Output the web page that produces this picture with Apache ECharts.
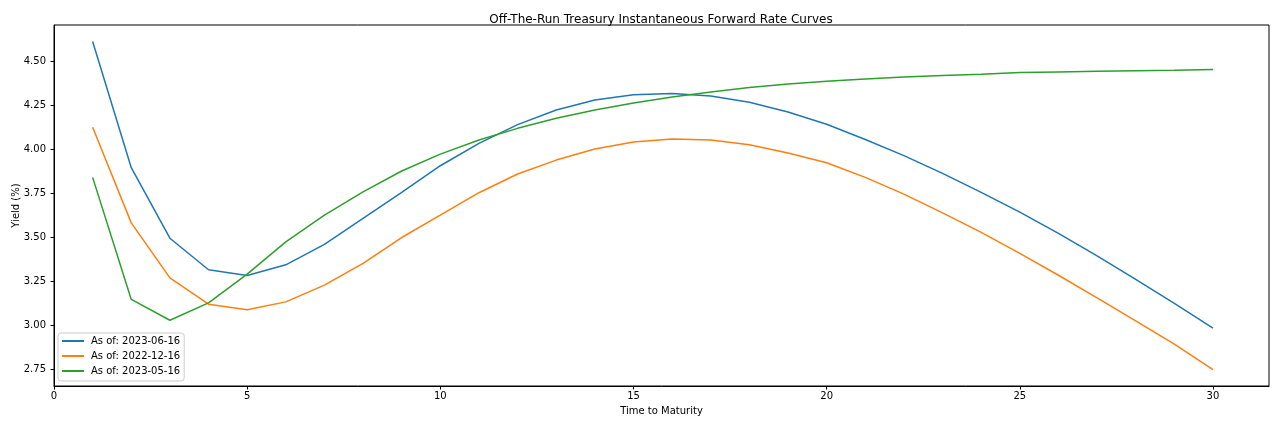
<!DOCTYPE html>
<html>
<head>
<meta charset="utf-8">
<script src="https://cdn.jsdelivr.net/npm/echarts@6/dist/echarts.min.js"></script>
<style>html,body{margin:0;padding:0;background:#fff}#c{width:1280px;height:427px}</style>
</head>
<body>
<div id="c"></div>
<script>
const maturities = [1,2,3,4,5,6,7,8,9,10,11,12,13,14,15,16,17,18,19,20,21,22,23,24,25,26,27,28,29,30];
const curve20230616 = [4.61,3.895,3.495,3.316,3.284,3.344,3.46,3.607,3.755,3.906,4.033,4.139,4.222,4.279,4.309,4.315,4.301,4.266,4.211,4.141,4.055,3.963,3.863,3.755,3.643,3.522,3.395,3.261,3.125,2.985];
const curve20221216 = [4.124,3.582,3.270,3.121,3.089,3.134,3.229,3.352,3.499,3.626,3.753,3.859,3.938,4.001,4.040,4.057,4.052,4.025,3.978,3.923,3.840,3.745,3.639,3.528,3.409,3.285,3.157,3.026,2.894,2.75];
const curve20230516 = [3.840,3.148,3.030,3.128,3.291,3.474,3.626,3.758,3.876,3.972,4.052,4.118,4.175,4.222,4.262,4.296,4.324,4.349,4.369,4.385,4.398,4.409,4.418,4.425,4.434,4.438,4.442,4.445,4.447,4.451];
const seriesNames = ['As of: 2023-06-16','As of: 2022-12-16','As of: 2023-05-16'];
const xTicks = [0,5,10,15,20,25,30];
const yTicks = [2.75,3.0,3.25,3.5,3.75,4.0,4.25,4.5];

const colors = ['#1f77b4','#ff7f0e','#2ca02c'];
const allSeries = [curve20230616, curve20221216, curve20230516];
const font = 'DejaVu Sans';
const chart = echarts.init(document.getElementById('c'), null, {renderer:'canvas'});
chart.setOption({
  animation:false,
  color: colors,
  title:{text:'Off-The-Run Treasury Instantaneous Forward Rate Curves', left:656, top:9, textAlign:'center',
    textStyle:{fontFamily:font,fontSize:12,fontWeight:'normal',color:'#000'}},
  legend:{orient:'vertical', left:58, top:333, itemWidth:22, itemHeight:2, itemGap:1,
    backgroundColor:'rgba(255,255,255,0.8)', borderColor:'#cccccc', borderWidth:1, borderRadius:3,
    padding:[1,4,3,4], icon:'rect',
    textStyle:{fontFamily:font,fontSize:10,color:'#000',padding:[0,0,0,2], lineHeight:14},
    data: seriesNames},
  grid:{left:54, right:11, top:25, bottom:41, outerBoundsMode:'none', containLabel:false,
    show:true, borderColor:'#000', borderWidth:1, backgroundColor:'transparent'},
  xAxis:{type:'value', min:0, max:31.45, name:'Time to Maturity', nameLocation:'middle', nameGap:20,
    nameMoveOverlap:false,
    nameTextStyle:{fontFamily:font,fontSize:10,color:'#000'},
    axisLine:{show:true,lineStyle:{color:'#000'}}, splitLine:{show:false},
    axisTick:{show:true, length:3.5, lineStyle:{color:'#000'}, customValues:xTicks},
    axisLabel:{fontFamily:font,fontSize:10,color:'#000',margin:5, customValues:xTicks}},
  yAxis:{type:'value', min:2.657, max:4.704, name:'Yield (%)', nameLocation:'middle', nameGap:33,
    nameMoveOverlap:false,
    nameTextStyle:{fontFamily:font,fontSize:10,color:'#000'},
    axisLine:{show:true,lineStyle:{color:'#000'}}, splitLine:{show:false},
    axisTick:{show:true, length:3.5, lineStyle:{color:'#000'}, customValues:yTicks},
    axisLabel:{fontFamily:font,fontSize:10,color:'#000',margin:8, customValues:yTicks, formatter:v=>v.toFixed(2)}},
  series: allSeries.map((arr,i)=>({
    name:seriesNames[i], type:'line', showSymbol:false, symbol:'none',
    lineStyle:{width:1.5,color:colors[i]}, itemStyle:{color:colors[i]},
    data: maturities.map((m,j)=>[m,arr[j]])
  }))
});
</script>
</body>
</html>
